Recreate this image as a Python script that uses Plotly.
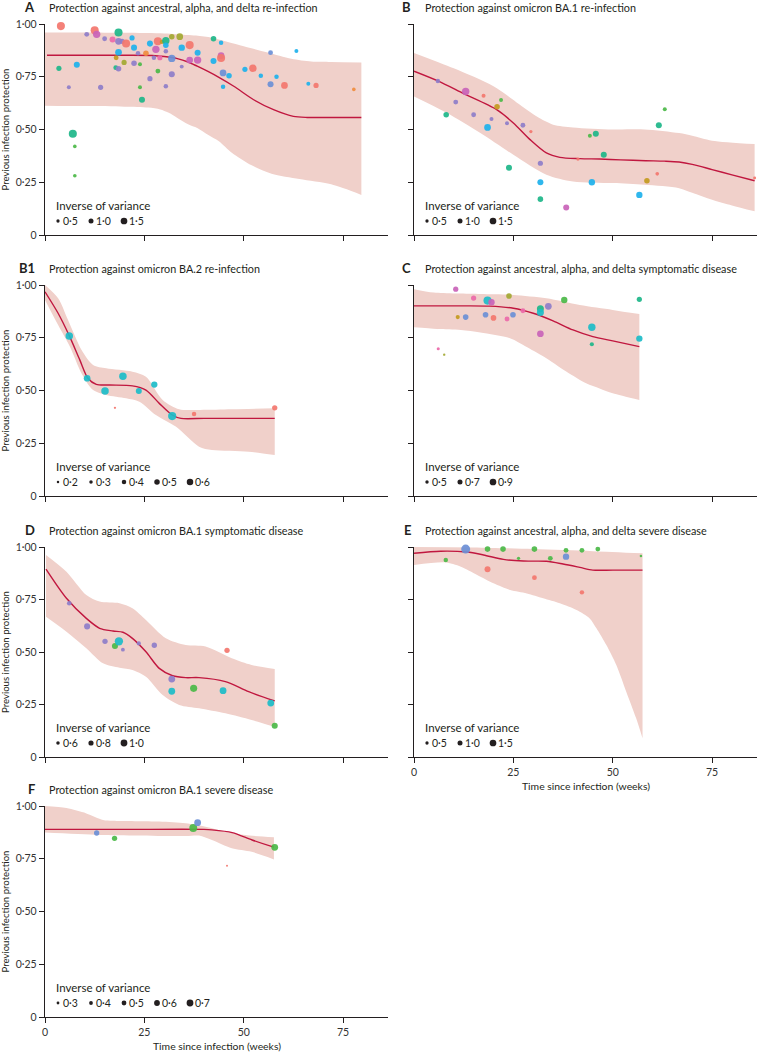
import plotly.graph_objects as go

# ------------------------------------------------------------------ data
COLORS = {
    "red": "#f3766e", "orange": "#f08c3e", "gold": "#c39a1e", "olive": "#a3a832",
    "green": "#4bb848", "teal": "#1db689", "cyan": "#1cbcc8", "lblue": "#1db1ec",
    "blue": "#6b8fd6", "purple": "#8e7dc9", "magenta": "#c963b9", "pink": "#ec69a9",
}

# Panel A
A_wk = [4, 3.5, 6, 7, 7.5, 7.5, 8, 10.5, 12.5, 13, 14, 15, 17, 17.9, 17.8, 18.5, 18.5, 18.5, 18.5,
        19.4, 20.4, 19.9, 21.9, 22.4, 22.4, 23.4, 23.9, 23.9, 24.4, 25.4, 26.4, 26.4, 27.4, 27.9,
        28.4, 28.4, 28.9, 29.4, 30.4, 30.4, 30.4, 30.4, 31.9, 31.9, 31.9, 33.9, 34.4, 34.4, 36.4, 36.4,
        38.4, 38.4, 42.4, 42.4, 44.3, 44.3, 44.3, 44.8, 44.8, 46.3, 50.3, 52.3, 54.3, 56.75, 56.75,
        58.25, 60.25, 63.25, 66.25, 68.2, 77.7]
A_prot = [0.99, 0.79, 0.70, 0.48, 0.42, 0.281, 0.807, 0.951, 0.97, 0.951, 0.70, 0.93, 0.926, 0.84, 0.793,
          0.96, 0.918, 0.866, 0.788, 0.918, 0.908, 0.818, 0.934, 0.888, 0.814, 0.861, 0.809, 0.70, 0.641,
          0.861, 0.907, 0.741, 0.84, 0.88, 0.918, 0.777, 0.84, 0.915, 0.921, 0.899, 0.871, 0.705, 0.94,
          0.837, 0.762, 0.94, 0.888, 0.798, 0.90, 0.829, 0.864, 0.829, 0.93, 0.825, 0.911, 0.85, 0.839,
          0.768, 0.703, 0.755, 0.785, 0.79, 0.755, 0.864, 0.714, 0.75, 0.709, 0.872, 0.717, 0.709, 0.69]
A_ivar = [1.9, 1.05, 0.7, 1.9, 0.6, 0.6, 1.3, 0.95, 1.9, 1.7, 1.05, 0.95, 1.3, 0.95, 0.95, 1.9, 1.5, 1.5,
          1.15, 1.05, 1.9, 1.05, 1.05, 1.3, 1.15, 0.85, 0.7, 0.7, 1.3, 1.15, 1.3, 1.05, 0.85, 1.7, 1.9,
          0.95, 1.05, 0.8, 1.7, 1.15, 0.85, 0.85, 1.15, 1.7, 1.3, 1.5, 1.4, 0.7, 1.9, 1.5, 1.3, 1.7, 1.15,
          1.3, 0.85, 1.5, 1.9, 1.5, 0.85, 1.15, 1.05, 1.7, 0.85, 0.95, 1.3, 0.85, 1.5, 0.7, 0.7, 1.05, 0.6]
A_col = ["red", "teal", "purple", "teal", "green", "green", "lblue", "purple", "red", "magenta", "purple",
         "purple", "pink", "gold", "teal", "teal", "purple", "lblue", "purple", "purple", "red", "olive",
         "lblue", "lblue", "purple", "purple", "green", "green", "teal", "orange", "lblue", "purple",
         "purple", "magenta", "red", "green", "pink", "gold", "teal", "lblue", "purple", "purple", "olive",
         "blue", "purple", "olive", "lblue", "purple", "red", "magenta", "lblue", "magenta", "teal",
         "lblue", "lblue", "magenta", "red", "blue", "lblue", "lblue", "lblue", "red", "lblue", "blue",
         "blue", "lblue", "red", "lblue", "lblue", "red", "orange"]
A_fit_wk = [0.5, 10, 20, 27, 30, 33.3, 36, 38.3, 41, 43.75, 47.5, 52.5, 57.5, 62.5, 66, 72, 79.6]
A_fit = [0.852, 0.852, 0.852, 0.851, 0.846, 0.836, 0.82, 0.80, 0.775, 0.747, 0.705, 0.641, 0.594,
         0.562, 0.557, 0.557, 0.557]
A_hi_wk = [0, 10, 20, 30, 33, 38, 42, 46, 50, 56, 62, 67, 72, 79.6]
A_hi = [0.96, 0.96, 0.958, 0.955, 0.952, 0.945, 0.935, 0.915, 0.895, 0.865, 0.835, 0.822, 0.82, 0.818]
A_lo_wk = [0, 10, 20, 26, 29, 31, 33.3, 36, 38.3, 41, 43.75, 47, 52, 57, 64, 72, 79.6]
A_lo = [0.613, 0.611, 0.608, 0.604, 0.595, 0.58, 0.555, 0.525, 0.507, 0.475, 0.444, 0.39, 0.33, 0.29,
        0.265, 0.24, 0.19]
A_legend = [0.5, 1.0, 1.5]

# Panel B
B_wk = [6, 8.1, 10.5, 13, 15, 17.5, 18.5, 19.5, 20.9, 21.9, 23.4, 23.9, 27.4, 29.4, 31.8, 31.8, 31.8,
        38.3, 41.25, 44.25, 45.75, 44.75, 47.75, 56.7, 58.6, 61.2, 61.6, 63.1, 85.7]
B_prot = [0.73, 0.57, 0.63, 0.68, 0.57, 0.66, 0.51, 0.55, 0.608, 0.64, 0.53, 0.319, 0.52, 0.49, 0.34,
          0.25, 0.17, 0.13, 0.36, 0.47, 0.48, 0.25, 0.38, 0.19, 0.257, 0.29, 0.52, 0.596, 0.27]
B_ivar = [0.85, 1.15, 0.95, 1.7, 0.95, 0.7, 1.5, 0.7, 1.15, 0.7, 0.7, 1.3, 0.95, 0.5, 1.05, 1.3, 1.15,
          1.3, 0.5, 0.7, 1.3, 1.4, 1.3, 1.4, 1.15, 0.6, 1.3, 0.7, 0.4]
B_col = ["purple", "teal", "purple", "magenta", "purple", "red", "lblue", "purple", "gold", "green",
         "purple", "teal", "purple", "red", "purple", "lblue", "teal", "magenta", "red", "green", "teal",
         "lblue", "teal", "lblue", "gold", "red", "teal", "green", "red"]
B_fit_wk = [0, 6, 12.5, 20.8, 25, 29.2, 33.3, 36.7, 41.7, 46.7, 52, 58.3, 63, 66.7, 70, 75, 80, 85.7]
B_fit = [0.776, 0.73, 0.67, 0.594, 0.531, 0.452, 0.389, 0.368, 0.362, 0.36, 0.356, 0.352, 0.35, 0.346,
         0.335, 0.31, 0.285, 0.257]
B_hi_wk = [0, 10, 20, 27.5, 31, 35, 40, 50, 58, 66.7, 70, 75, 85.7]
B_hi = [0.863, 0.79, 0.705, 0.605, 0.56, 0.523, 0.51, 0.5, 0.5, 0.483, 0.47, 0.447, 0.431]
B_lo_wk = [0, 8.3, 16.7, 25, 33.3, 40, 50, 58, 66.7, 70, 75, 80, 85.7]
B_lo = [0.656, 0.578, 0.483, 0.38, 0.286, 0.254, 0.246, 0.238, 0.222, 0.2, 0.167, 0.14, 0.112]
B_legend = [0.5, 1.0, 1.5]

# Panel B1
B1_wk = [6.1, 10.6, 15.1, 17.6, 19.6, 23.6, 27.5, 32, 37.5, 57.8]
B1_prot = [0.758, 0.558, 0.498, 0.418, 0.567, 0.498, 0.528, 0.379, 0.389, 0.418]
B1_ivar = [0.7, 0.62, 0.7, 0.18, 0.7, 0.55, 0.58, 0.77, 0.4, 0.48]
B1_col = ["cyan", "cyan", "cyan", "red", "cyan", "cyan", "cyan", "cyan", "red", "red"]
B1_fit_wk = [0, 3.3, 6.1, 8.75, 10.8, 12.9, 16.25, 22, 25.4, 28.75, 32, 34.2, 40, 50, 57.8]
B1_fit = [0.968, 0.866, 0.76, 0.645, 0.558, 0.529, 0.526, 0.522, 0.502, 0.439, 0.384, 0.368, 0.368,
          0.368, 0.368]
B1_hi_wk = [0, 3.3, 5.8, 9.2, 12.1, 15.4, 22, 25.4, 29.6, 33.75, 38.75, 47, 57.8]
B1_hi = [1.0, 0.937, 0.834, 0.692, 0.621, 0.605, 0.589, 0.565, 0.455, 0.411, 0.408, 0.411, 0.416]
B1_lo_wk = [0, 3.3, 6.25, 9.2, 12.1, 15.4, 20.4, 23.75, 27.9, 32.9, 38.75, 42, 51.25, 57.8]
B1_lo = [0.929, 0.81, 0.708, 0.581, 0.502, 0.479, 0.463, 0.447, 0.384, 0.329, 0.234, 0.218, 0.21, 0.194]
B1_legend = [0.2, 0.3, 0.4, 0.5, 0.6]

# Panel C
C_wk = [10.5, 6.1, 7.6, 11, 13, 15, 18.5, 19.5, 18, 20, 23.4, 23.9, 24.9, 27.4, 31.8, 31.8, 33.8, 31.8,
        37.8, 44.75, 44.75, 56.7, 56.7]
C_prot = [0.98, 0.698, 0.67, 0.848, 0.848, 0.938, 0.926, 0.918, 0.859, 0.844, 0.839, 0.948, 0.859,
          0.878, 0.888, 0.87, 0.899, 0.769, 0.929, 0.80, 0.719, 0.932, 0.746]
C_ivar = [0.72, 0.46, 0.37, 0.59, 0.77, 0.72, 1.07, 0.86, 0.77, 0.77, 0.68, 0.77, 0.77, 0.68, 0.94,
          0.94, 0.9, 0.9, 0.86, 0.99, 0.59, 0.72, 0.86]
C_col = ["magenta", "pink", "olive", "gold", "blue", "pink", "cyan", "magenta", "blue", "red", "pink",
         "olive", "blue", "pink", "teal", "cyan", "purple", "magenta", "green", "cyan", "teal", "teal",
         "cyan"]
C_fit_wk = [0, 10, 19, 25, 30, 35, 40, 45, 50, 56.7]
C_fit = [0.901, 0.901, 0.9, 0.89, 0.866, 0.83, 0.787, 0.755, 0.735, 0.708]
C_hi_wk = [0, 5, 16.7, 25, 33.3, 41.7, 50, 56.7]
C_hi = [0.98, 0.964, 0.957, 0.953, 0.937, 0.905, 0.882, 0.862]
C_lo_wk = [0, 5.8, 11.8, 16.7, 24.3, 28, 32.7, 38.3, 43.3, 46.7, 50, 56.7]
C_lo = [0.80, 0.792, 0.787, 0.775, 0.747, 0.71, 0.66, 0.59, 0.534, 0.51, 0.487, 0.455]
C_legend = [0.5, 0.7, 0.9]

# Panel D
D_wk = [6.1, 10.6, 15.1, 17.6, 18.6, 19.6, 23.6, 27.5, 31.9, 31.9, 37.4, 45.8, 44.8, 56.8, 57.8]
D_prot = [0.732, 0.622, 0.551, 0.529, 0.551, 0.511, 0.541, 0.532, 0.371, 0.313, 0.327, 0.508, 0.316,
          0.257, 0.149]
D_ivar = [0.73, 0.91, 0.82, 0.91, 1.18, 0.64, 0.69, 0.82, 1.0, 1.0, 1.04, 0.82, 1.0, 1.0, 0.91]
D_col = ["purple", "purple", "purple", "green", "cyan", "purple", "purple", "purple", "purple", "cyan",
         "green", "red", "cyan", "cyan", "green"]
D_fit_wk = [0.25, 5.4, 10.4, 13.75, 17.1, 19.6, 22, 25.4, 28.75, 32.1, 35.4, 38.75, 45.4, 51.25, 57.8]
D_fit = [0.895, 0.756, 0.66, 0.613, 0.6, 0.594, 0.565, 0.501, 0.422, 0.387, 0.378, 0.378, 0.359, 0.311,
         0.267]
D_hi_wk = [0.25, 5.4, 10.4, 13.75, 18.75, 22, 25.4, 30.4, 35.4, 40.4, 47, 52, 57.8]
D_hi = [0.962, 0.882, 0.771, 0.74, 0.732, 0.708, 0.652, 0.565, 0.533, 0.526, 0.47, 0.438, 0.419]
D_lo_wk = [0.25, 5.4, 10.4, 14.6, 18.75, 22, 25.4, 29.6, 33.75, 38.75, 45.4, 52, 57.8]
D_lo = [0.668, 0.597, 0.518, 0.446, 0.425, 0.414, 0.382, 0.295, 0.248, 0.232, 0.208, 0.176, 0.144]
D_legend = [0.6, 0.8, 1.0]

# Panel E
E_wk = [8, 13, 18.5, 18.5, 22.4, 26.3, 30.3, 30.3, 34.3, 38.25, 38.25, 42.25, 42.25, 46.25, 57.1]
E_prot = [0.938, 0.99, 0.99, 0.894, 0.99, 0.946, 0.99, 0.854, 0.946, 0.984, 0.954, 0.984, 0.784, 0.99,
          0.957]
E_ivar = [0.83, 2.17, 1.17, 1.28, 1.17, 0.5, 1.17, 0.94, 0.94, 0.94, 1.4, 0.94, 0.83, 0.94, 0.28]
E_col = ["green", "blue", "green", "red", "green", "green", "green", "red", "green", "green", "blue",
         "green", "red", "green", "green"]
E_fit_wk = [0, 6.7, 13.3, 17.5, 22.5, 27.5, 33.3, 37.5, 41.7, 45, 50, 57.5]
E_fit = [0.97, 0.98, 0.976, 0.962, 0.941, 0.933, 0.932, 0.919, 0.903, 0.89, 0.89, 0.89]
E_hi_wk = [0, 15, 30, 45, 57.5]
E_hi = [1.0, 0.998, 0.99, 0.98, 0.97]
E_lo_wk = [0, 7.7, 11.8, 15.9, 20, 24.2, 28.4, 32.5, 36.7, 40.9, 44.2, 45.9, 48.4, 50.9, 53.4, 55.9, 57.5]
E_lo = [0.914, 0.927, 0.906, 0.867, 0.827, 0.795, 0.779, 0.756, 0.732, 0.70, 0.66, 0.613, 0.533, 0.438,
        0.311, 0.184, 0.089]
E_legend = [0.5, 1.0, 1.5]

# Panel F
F_wk = [13, 17.5, 37.3, 38.4, 45.8, 57.8]
F_prot = [0.872, 0.847, 0.896, 0.921, 0.717, 0.804]
F_ivar = [0.55, 0.55, 0.81, 0.7, 0.22, 0.7]
F_col = ["blue", "green", "green", "blue", "red", "green"]
F_fit_wk = [0, 20, 40, 42, 47.1, 52.1, 57.6]
F_fit = [0.889, 0.889, 0.889, 0.887, 0.874, 0.839, 0.805]
F_hi_wk = [0, 5.4, 10.4, 14.6, 17.1, 28.75, 35.4, 40.4, 45.4, 50.4, 57.6]
F_hi = [1.0, 0.99, 0.965, 0.934, 0.93, 0.926, 0.918, 0.902, 0.878, 0.862, 0.852]
F_lo_wk = [0, 13.75, 35.4, 38.75, 42, 47, 52, 57.6]
F_lo = [0.874, 0.863, 0.858, 0.86, 0.839, 0.8, 0.783, 0.747]
F_legend = [0.3, 0.4, 0.5, 0.6, 0.7]

TITLES = {
    "A": "Protection against ancestral, alpha, and delta re-infection",
    "B": "Protection against omicron BA.1 re-infection",
    "B1": "Protection against omicron BA.2 re-infection",
    "C": "Protection against ancestral, alpha, and delta symptomatic disease",
    "D": "Protection against omicron BA.1 symptomatic disease",
    "E": "Protection against ancestral, alpha, and delta severe disease",
    "F": "Protection against omicron BA.1 severe disease",
}
Y_TICKS = [0, 0.25, 0.5, 0.75, 1.0]
Y_TICKTEXT = ["0", "0·25", "0·50", "0·75", "1·00"]
X_TICKS = [0, 25, 50, 75]
X_TICKTEXT = ["0", "25", "50", "75"]
Y_LABEL = "Previous infection protection"
X_LABEL = "Time since infection (weeks)"
LEGEND_TITLE = "Inverse of variance"

PANELS = {
    "A": (A_wk, A_prot, A_ivar, A_col, A_fit_wk, A_fit, A_hi_wk, A_hi, A_lo_wk, A_lo, A_legend),
    "B": (B_wk, B_prot, B_ivar, B_col, B_fit_wk, B_fit, B_hi_wk, B_hi, B_lo_wk, B_lo, B_legend),
    "B1": (B1_wk, B1_prot, B1_ivar, B1_col, B1_fit_wk, B1_fit, B1_hi_wk, B1_hi, B1_lo_wk, B1_lo, B1_legend),
    "C": (C_wk, C_prot, C_ivar, C_col, C_fit_wk, C_fit, C_hi_wk, C_hi, C_lo_wk, C_lo, C_legend),
    "D": (D_wk, D_prot, D_ivar, D_col, D_fit_wk, D_fit, D_hi_wk, D_hi, D_lo_wk, D_lo, D_legend),
    "E": (E_wk, E_prot, E_ivar, E_col, E_fit_wk, E_fit, E_hi_wk, E_hi, E_lo_wk, E_lo, E_legend),
    "F": (F_wk, F_prot, F_ivar, F_col, F_fit_wk, F_fit, F_hi_wk, F_hi, F_lo_wk, F_lo, F_legend),
}

# ------------------------------------------------------------------ style / layout
W, H = 757, 1052
ML, MR, MT, MB = 45, 0, 24, 35
PW, PH = W - ML - MR, H - MT - MB
FONT = "Lato"
INK = "#231f20"
FIT_COL = "#c0173f"
BAND_COL = "#f0d0ca"

# marker diameter = a + b * inverse-variance (per panel size scale)
SIZE_SCALE = {"A": (1.6, 3.4), "B": (1.6, 3.4), "B1": (0.5, 10.0), "C": (-0.7, 8.2),
              "D": (-1.4, 8.2), "E": (1.6, 3.4), "F": (-0.2, 10.0)}

# placement: (column, row)
PLACE = {"A": (0, 0), "B": (1, 0), "B1": (0, 1), "C": (1, 1), "D": (0, 2), "E": (1, 2), "F": (0, 3)}
COL_PX = [(45, 388), (414, 757)]
ROW_PX = [(24, 235), (285, 496), (547, 757), (806, 1017)]
X_RANGE = [0, 86.3]


def xdom(c):
    l, r = COL_PX[c]
    return [(l - ML) / PW, (r - ML) / PW]


def ydom(r):
    t, b = ROW_PX[r]
    return [(H - MB - b) / PH, (H - MB - t) / PH]


def fmt(v):
    return f"{v:.1f}".replace(".", "·")


fig = go.Figure()
layout = dict(width=W, height=H, margin=dict(l=ML, r=MR, t=MT, b=MB, autoexpand=False),
              paper_bgcolor="white", plot_bgcolor="white", showlegend=False,
              font=dict(family=FONT, color=INK, size=10))
annotations, shapes = [], []

for i, key in enumerate(["A", "B", "B1", "C", "D", "E", "F"], start=1):
    wk, prot, ivar, col, fwk, fit, hwk, hi, lwk, lo, leg = PANELS[key]
    c, r = PLACE[key]
    sfx = "" if i == 1 else str(i)
    xa, ya = "x" + sfx, "y" + sfx
    a, b = SIZE_SCALE[key]
    bottom = key in ("E", "F")

    fig.add_trace(go.Scatter(x=hwk, y=hi, mode="lines", line=dict(width=0, shape="spline", smoothing=0.8),
                             hoverinfo="skip", xaxis=xa, yaxis=ya))
    fig.add_trace(go.Scatter(x=lwk, y=lo, mode="lines", line=dict(width=0, shape="spline", smoothing=0.8),
                             fill="tonexty", fillcolor=BAND_COL, hoverinfo="skip", xaxis=xa, yaxis=ya))
    fig.add_trace(go.Scatter(x=fwk, y=fit, mode="lines",
                             line=dict(color=FIT_COL, width=1.4, shape="spline", smoothing=0.8),
                             xaxis=xa, yaxis=ya))
    fig.add_trace(go.Scatter(x=wk, y=prot, mode="markers", cliponaxis=False,
                             marker=dict(size=[a + b * v for v in ivar],
                                         color=[COLORS[k] for k in col], opacity=0.92,
                                         line=dict(width=0)),
                             xaxis=xa, yaxis=ya))

    layout["xaxis" + sfx] = dict(domain=xdom(c), range=X_RANGE, anchor=ya, showline=True, linecolor=INK,
                                 linewidth=1.2, ticks="outside", ticklen=5, tickcolor=INK, tickwidth=1,
                                 tickvals=X_TICKS, ticktext=X_TICKTEXT, showticklabels=bottom,
                                 tickfont=dict(size=10.5, color="#333"), showgrid=False, zeroline=False)
    layout["yaxis" + sfx] = dict(domain=ydom(r), range=[0, 1], anchor=xa, showline=True, linecolor=INK,
                                 linewidth=1.2, ticks="outside", ticklen=5, tickcolor=INK, tickwidth=1,
                                 tickvals=Y_TICKS, ticktext=Y_TICKTEXT, showticklabels=(c == 0),
                                 tickfont=dict(size=10.5, color="#333"), showgrid=False, zeroline=False)

    xr, yr = xa + " domain", ya + " domain"
    tshift = 2 if c == 0 else 9
    lshift = -8 if c == 0 else -1
    annotations.append(dict(xref=xr, yref=yr, x=0, y=1, xanchor="right", yanchor="middle",
                            xshift=lshift, yshift=17, text=f"<b>{key}</b>", showarrow=False,
                            font=dict(size=13, family=FONT, color=INK)))
    annotations.append(dict(xref=xr, yref=yr, x=0, y=1, xanchor="left", yanchor="middle",
                            xshift=tshift, yshift=17, text=TITLES[key], showarrow=False,
                            font=dict(size=10.8, family=FONT, color=INK)))
    if c == 0:
        annotations.append(dict(xref=xr, yref=yr, x=0, y=0.5, xanchor="center", yanchor="middle",
                                xshift=-40, textangle=-90, text=Y_LABEL, showarrow=False,
                                font=dict(size=9.6, family=FONT, color=INK)))
    if bottom:
        annotations.append(dict(xref=xr, yref=yr, x=0.5, y=0, xanchor="center", yanchor="middle",
                                yshift=-29, text=X_LABEL, showarrow=False,
                                font=dict(size=10.4, family=FONT, color=INK)))

    # inverse-of-variance key
    annotations.append(dict(xref=xr, yref=yr, x=0, y=0, xanchor="left", yanchor="middle",
                            xshift=9, yshift=30, text=LEGEND_TITLE, showarrow=False,
                            font=dict(size=11.5, family=FONT, color=INK)))
    for j, v in enumerate(leg):
        cx = 13 + 33 * j
        rad = (a + b * v) / 2
        shapes.append(dict(type="circle", xref=xr, yref=yr, xsizemode="pixel", ysizemode="pixel",
                           xanchor=0, yanchor=0, x0=cx - rad, x1=cx + rad, y0=14 - rad, y1=14 + rad,
                           fillcolor=INK, line=dict(width=0)))
        annotations.append(dict(xref=xr, yref=yr, x=0, y=0, xanchor="left", yanchor="middle",
                                xshift=cx + 3, yshift=14, text=fmt(v), showarrow=False,
                                font=dict(size=10.5, family=FONT, color=INK)))

layout["annotations"] = annotations
layout["shapes"] = shapes
fig.update_layout(**layout)
fig.write_html("out.html", config={"displayModeBar": False, "staticPlot": True},
               post_script="document.body.style.margin='0';document.body.style.overflow='hidden';")
